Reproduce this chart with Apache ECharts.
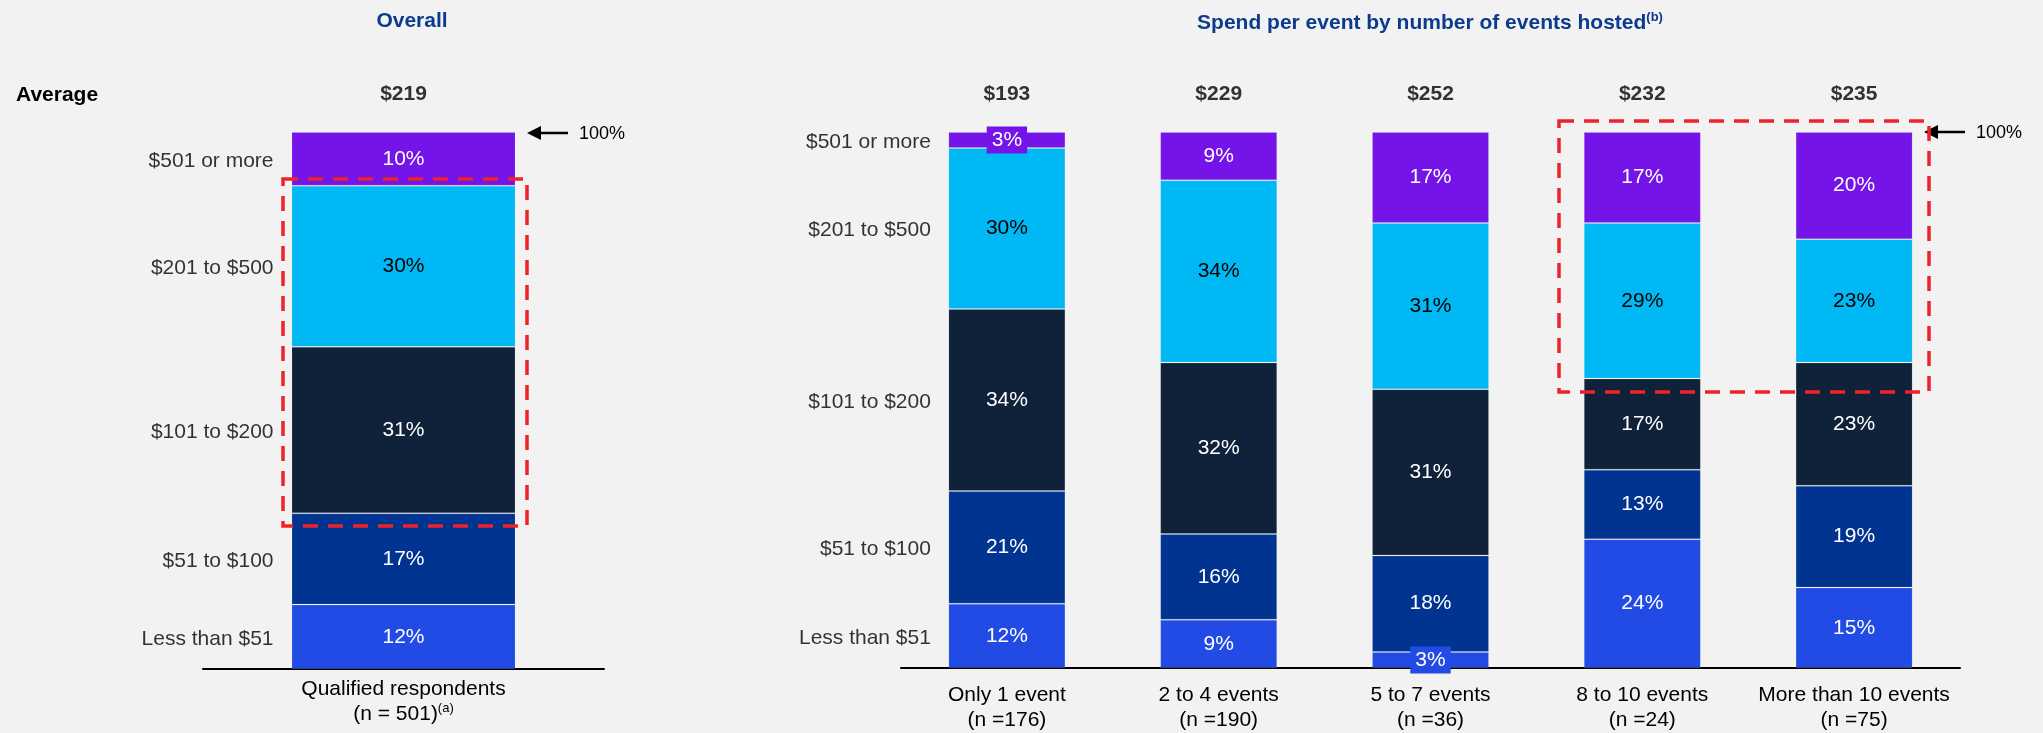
<!DOCTYPE html>
<html>
<head>
<meta charset="utf-8">
<script src="https://cdn.jsdelivr.net/npm/echarts@6/dist/echarts.min.js"></script>
<style>
  html, body { margin: 0; padding: 0; background: #f2f2f2; }
  #chart { width: 2043px; height: 733px; }
</style>
</head>
<body>
<div id="chart"></div>
<script>
// Spend tiers, listed from the bottom of each stack to the top
const tiers = ['Less than $51', '$51 to $100', '$101 to $200', '$201 to $500', '$501 or more'];
const tierColors = ['#214BE4', '#013491', '#0F223A', '#00B8F4', '#7514E8'];
const tierLabelColors = ['#ffffff', '#ffffff', '#ffffff', '#000000', '#ffffff'];

// Overall panel
const overallCategory = ['Qualified respondents'];
const overallN = [501];
const overallShares = [12, 17, 31, 30, 10];   // % per tier, bottom to top
const overallAverage = [219];

// By number of events hosted
const eventGroups = ['Only 1 event', '2 to 4 events', '5 to 7 events', '8 to 10 events', 'More than 10 events'];
const eventGroupN = [176, 190, 36, 24, 75];
const lessThan51 = [12, 9, 3, 24, 15];
const from51To100 = [21, 16, 18, 13, 19];
const from101To200 = [34, 32, 31, 17, 23];
const from201To500 = [30, 34, 31, 29, 23];
const from501Up = [3, 9, 17, 17, 20];
const groupAverage = [193, 229, 252, 232, 235];

const FONT = '"Liberation Sans", Arial, Helvetica, sans-serif';
const TITLE_COLOR = '#0B3A8E';
const RED = '#EE2229';
const TEXT_SIZE = 21;

const groupTierValues = [lessThan51, from51To100, from101To200, from201To500, from501Up];

// Midpoints of each stacked segment (used to place the tier names beside a bar)
function segmentMids(values) {
  let acc = 0;
  return values.map(v => { const m = acc + v / 2; acc += v; return m; });
}

function tierSeries(values, t, axis, stackId, barWidth) {
  return {
    type: 'bar',
    name: tiers[t],
    stack: stackId,
    xAxisIndex: axis,
    yAxisIndex: axis,
    barWidth: barWidth,
    itemStyle: { color: tierColors[t], borderColor: 'rgba(255,255,255,0.12)', borderWidth: 1 },
    label: {
      show: true,
      position: 'inside',
      formatter: '{c}%',
      fontFamily: FONT,
      fontSize: TEXT_SIZE,
      color: tierLabelColors[t]
    },
    data: values.map(v => v <= 3
      ? { value: v, label: { backgroundColor: tierColors[t], padding: [3, 5] } }
      : v)
  };
}

function tierNameSeries(axis, mids, dx) {
  return {
    type: 'scatter',
    xAxisIndex: axis,
    yAxisIndex: axis,
    symbolSize: 0,
    silent: true,
    z: 5,
    label: {
      show: true,
      position: 'inside',
      align: 'right',
      offset: [dx, 2],
      formatter: p => p.name,
      fontFamily: FONT,
      fontSize: TEXT_SIZE,
      color: '#000'
    },
    data: tiers.map((t, i) => ({ name: t, value: [0, mids[i]] }))
  };
}

function averageSeries(axis, avgs) {
  return {
    type: 'scatter',
    xAxisIndex: axis,
    yAxisIndex: axis,
    symbolSize: 0,
    silent: true,
    label: {
      show: true,
      position: 'inside',
      offset: [0, -38],
      formatter: p => '$' + p.value[2],
      fontFamily: FONT,
      fontSize: 21,
      fontWeight: 'bold',
      color: '#000'
    },
    data: avgs.map((v, i) => [i, 100, v])
  };
}

const supStyle = { fontFamily: FONT, fontSize: 13, color: '#000', verticalAlign: 'top', lineHeight: 25 };

const series = [];
overallShares.forEach((v, t) => series.push(tierSeries([v], t, 0, 'overall', 224)));
groupTierValues.forEach((vals, t) => series.push(tierSeries(vals, t, 1, 'groups', 117)));
series.push(tierNameSeries(0, segmentMids(overallShares), -130));
series.push(tierNameSeries(1, segmentMids(groupTierValues.map(v => v[0])), -76));
series.push(averageSeries(0, overallAverage));
series.push(averageSeries(1, groupAverage));

function arrow(tipX, y) {
  return {
    type: 'group',
    children: [
      { type: 'polygon', shape: { points: [[tipX, y], [tipX + 14, y - 7], [tipX + 14, y + 7]] }, style: { fill: '#000' } },
      { type: 'line', shape: { x1: tipX + 12, y1: y, x2: tipX + 41, y2: y }, style: { stroke: '#000', lineWidth: 2.5 } },
      { type: 'text', x: tipX + 52, y: y + 1, style: { text: '100%', fontFamily: FONT, fontSize: 18, fill: '#000', textVerticalAlign: 'middle' } }
    ]
  };
}

function dashedBox(x, y, w, h) {
  return {
    type: 'rect', z: 100,
    shape: { x: x, y: y, width: w, height: h },
    style: { fill: 'none', stroke: RED, lineWidth: 3.5, lineDash: [15, 10] }
  };
}

const option = {
  backgroundColor: '#f2f2f2',
  animation: false,
  title: [
    {
      text: 'Overall',
      left: 412, top: 9, textAlign: 'center', padding: 0,
      textStyle: { fontFamily: FONT, fontSize: 21, fontWeight: 'bold', color: TITLE_COLOR, lineHeight: 24 }
    },
    {
      text: '{t|Spend per event by number of events hosted}{s|(b)}',
      left: 1430, top: 11, textAlign: 'center', padding: 0,
      textStyle: {
        rich: {
          t: { fontFamily: FONT, fontSize: 21, fontWeight: 'bold', color: TITLE_COLOR, lineHeight: 24 },
          s: { fontFamily: FONT, fontSize: 13, fontWeight: 'bold', color: TITLE_COLOR, verticalAlign: 'top', lineHeight: 24 }
        }
      }
    }
  ],
  grid: [
    { left: 203, width: 401, top: 132, height: 537 },
    { left: 901, width: 1059, top: 132, height: 537 }
  ],
  xAxis: [
    {
      type: 'category', gridIndex: 0, data: overallCategory,
      axisTick: { show: false },
      axisLine: { lineStyle: { color: '#000', width: 2 } },
      axisLabel: {
        interval: 0, margin: 8, fontFamily: FONT, fontSize: TEXT_SIZE, color: '#000', lineHeight: 25,
        formatter: (v, i) => v + '\n(n = ' + overallN[i] + '){sup|(a)}',
        rich: { sup: supStyle }
      }
    },
    {
      type: 'category', gridIndex: 1, data: eventGroups,
      axisTick: { show: false },
      axisLine: { lineStyle: { color: '#000', width: 2 } },
      axisLabel: {
        interval: 0, margin: 15, fontFamily: FONT, fontSize: TEXT_SIZE, color: '#000', lineHeight: 25,
        formatter: (v, i) => v + '\n(n =' + eventGroupN[i] + ')'
      }
    }
  ],
  yAxis: [
    { type: 'value', gridIndex: 0, min: 0, max: 100, show: false },
    { type: 'value', gridIndex: 1, min: 0, max: 100, show: false }
  ],
  series: series,
  graphic: [
    { type: 'text', x: 16, y: 95, style: { text: 'Average', fontFamily: FONT, fontSize: 21, fontWeight: 'bold', fill: '#000', textVerticalAlign: 'middle' } },
    arrow(527, 133),
    arrow(1924, 132),
    dashedBox(283, 179, 244, 347),
    dashedBox(1559, 121, 370, 271)
  ]
};

const chart = echarts.init(document.getElementById('chart'), null, { renderer: 'canvas' });
chart.setOption(option);
</script>
</body>
</html>
